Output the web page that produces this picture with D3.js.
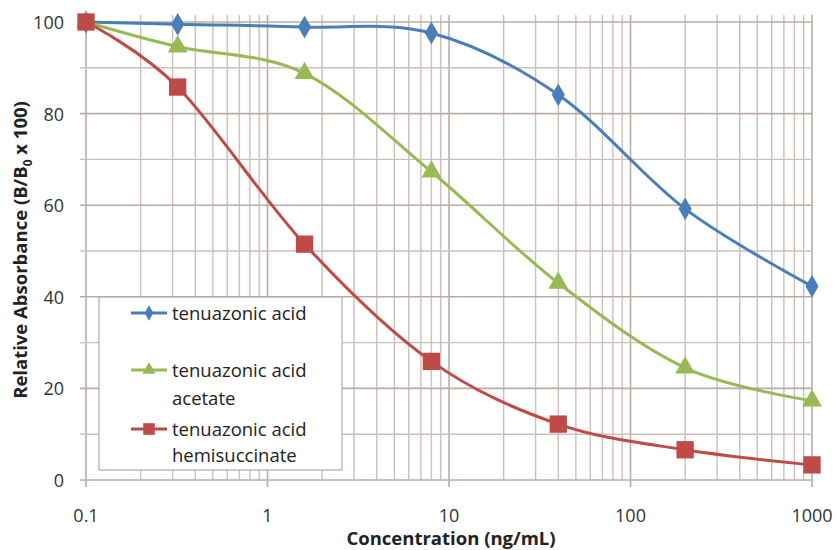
<!DOCTYPE html>
<html><head><meta charset="utf-8">
<script src="https://cdn.jsdelivr.net/npm/d3@7"></script>
<style>body{margin:0;background:#fff}svg{display:block}</style>
</head><body>
<svg id="c" width="836" height="550"></svg>
<script>
const concentrations = [0.1, 0.32, 1.6, 8, 40, 200, 1000];
const tenuazonicAcid = [100, 99.5, 98.9, 97.6, 84.1, 59.2, 42.3];
const tenuazonicAcidAcetate = [100, 94.6, 88.8, 67.3, 43.0, 24.5, 17.3];
const tenuazonicAcidHemisuccinate = [100, 85.8, 51.5, 25.9, 12.2, 6.6, 3.3];
const seriesNames = [["tenuazonic acid"], ["tenuazonic acid", "acetate"], ["tenuazonic acid", "hemisuccinate"]];
const xTickLabels = ["0.1", "1", "10", "100", "1000"];
const yTickLabels = [0, 20, 40, 60, 80, 100];

const colors = ["#4a7ebb", "#98b954", "#be4b48"];
const symbols = [d3.symbolDiamond, d3.symbolTriangle, d3.symbolSquare];
const markerSize = [150, 170, 300];
const series = [tenuazonicAcid, tenuazonicAcidAcetate, tenuazonicAcidHemisuccinate];

const svg = d3.select("#c");
const L = 86, R = 812, T = 22, B = 480;
const x = d3.scaleLog().domain([0.1, 1000]).range([L, R]);
const y = d3.scaleLinear().domain([0, 100]).range([B, T]);
const font = "'Open Sans', sans-serif";

// grid
const g = svg.append("g");
const minorX = [];
for (let d = 0.1; d < 1000; d *= 10) for (let k = 2; k <= 9; k++) minorX.push(d * k);
g.selectAll(".vx").data(minorX).enter().append("line")
  .attr("x1", d => x(d)).attr("x2", d => x(d)).attr("y1", 15).attr("y2", B)
  .attr("stroke", "#cdbfbb").attr("stroke-width", 1.4);
g.selectAll(".vM").data(xTickLabels.map(Number)).enter().append("line")
  .attr("x1", d => x(d)).attr("x2", d => x(d)).attr("y1", 15).attr("y2", B + 7)
  .attr("stroke", "#bcaba7").attr("stroke-width", 1.6);
g.selectAll(".hm").data(d3.range(10, 100, 20)).enter().append("line")
  .attr("x1", L - 6).attr("x2", R).attr("y1", d => y(d)).attr("y2", d => y(d))
  .attr("stroke", "#cdbfbb").attr("stroke-width", 1.4);
g.selectAll(".hM").data(yTickLabels).enter().append("line")
  .attr("x1", L - 6).attr("x2", R).attr("y1", d => y(d)).attr("y2", d => y(d))
  .attr("stroke", "#bcaba7").attr("stroke-width", 1.6);

// axes labels
svg.selectAll(".yl").data(yTickLabels).enter().append("text")
  .attr("x", 64).attr("y", d => y(d) + 7).attr("text-anchor", "end")
  .attr("font-family", font).attr("font-size", 18).attr("fill", "#333")
  .text(d => d);
svg.selectAll(".xl").data(xTickLabels).enter().append("text")
  .attr("x", d => x(+d)).attr("y", 522).attr("text-anchor", "middle")
  .attr("font-family", font).attr("font-size", 18).attr("fill", "#333")
  .text(d => d);

svg.append("text").attr("x", 451).attr("y", 545).attr("text-anchor", "middle")
  .attr("font-family", font).attr("font-weight", "bold").attr("font-size", 18.5).attr("fill", "#222")
  .text("Concentration (ng/mL)");
const yt = svg.append("text").attr("transform", "translate(27,250) rotate(-90)").attr("text-anchor", "middle")
  .attr("font-family", font).attr("font-weight", "bold").attr("font-size", 18.5).attr("fill", "#222");
yt.append("tspan").text("Relative Absorbance (B/B");
yt.append("tspan").attr("font-size", 12).attr("dy", 5).text("0");
yt.append("tspan").attr("dy", -5).text(" x 100)");

// lines
const line = d3.line().x(d => x(d[0])).y(d => y(d[1])).curve(d3.curveCardinal.tension(0));
series.forEach((s, i) => {
  const pts = concentrations.map((c, j) => [c, s[j]]);
  svg.append("path").attr("d", line(pts)).attr("fill", "none")
    .attr("stroke", colors[i]).attr("stroke-width", 3);
});
series.forEach((s, i) => {
  svg.selectAll(".m" + i).data(concentrations.map((c, j) => [c, s[j]])).enter().append("path")
    .attr("d", d3.symbol().type(symbols[i]).size(markerSize[i]))
    .attr("transform", d => `translate(${x(d[0])},${y(d[1])})`)
    .attr("fill", colors[i]);
});

// legend
const lg = svg.append("g");
lg.append("rect").attr("x", 99).attr("y", 297).attr("width", 243).attr("height", 173)
  .attr("fill", "#fff").attr("stroke", "#b3aaa8").attr("stroke-width", 1.2);
const ly = [[313], [370, 398], [429, 455]];
seriesNames.forEach((names, i) => {
  const yy = ly[i][0];
  lg.append("line").attr("x1", 131).attr("x2", 167).attr("y1", yy).attr("y2", yy)
    .attr("stroke", colors[i]).attr("stroke-width", 3);
  lg.append("path").attr("d", d3.symbol().type(symbols[i]).size(markerSize[i] * 0.45))
    .attr("transform", `translate(149,${yy})`).attr("fill", colors[i]);
  names.forEach((n, k) => {
    lg.append("text").attr("x", 172).attr("y", ly[i][k] + 6.5)
      .attr("font-family", font).attr("font-size", 18.5).attr("fill", "#222").text(n);
  });
});
</script>
</body></html>
